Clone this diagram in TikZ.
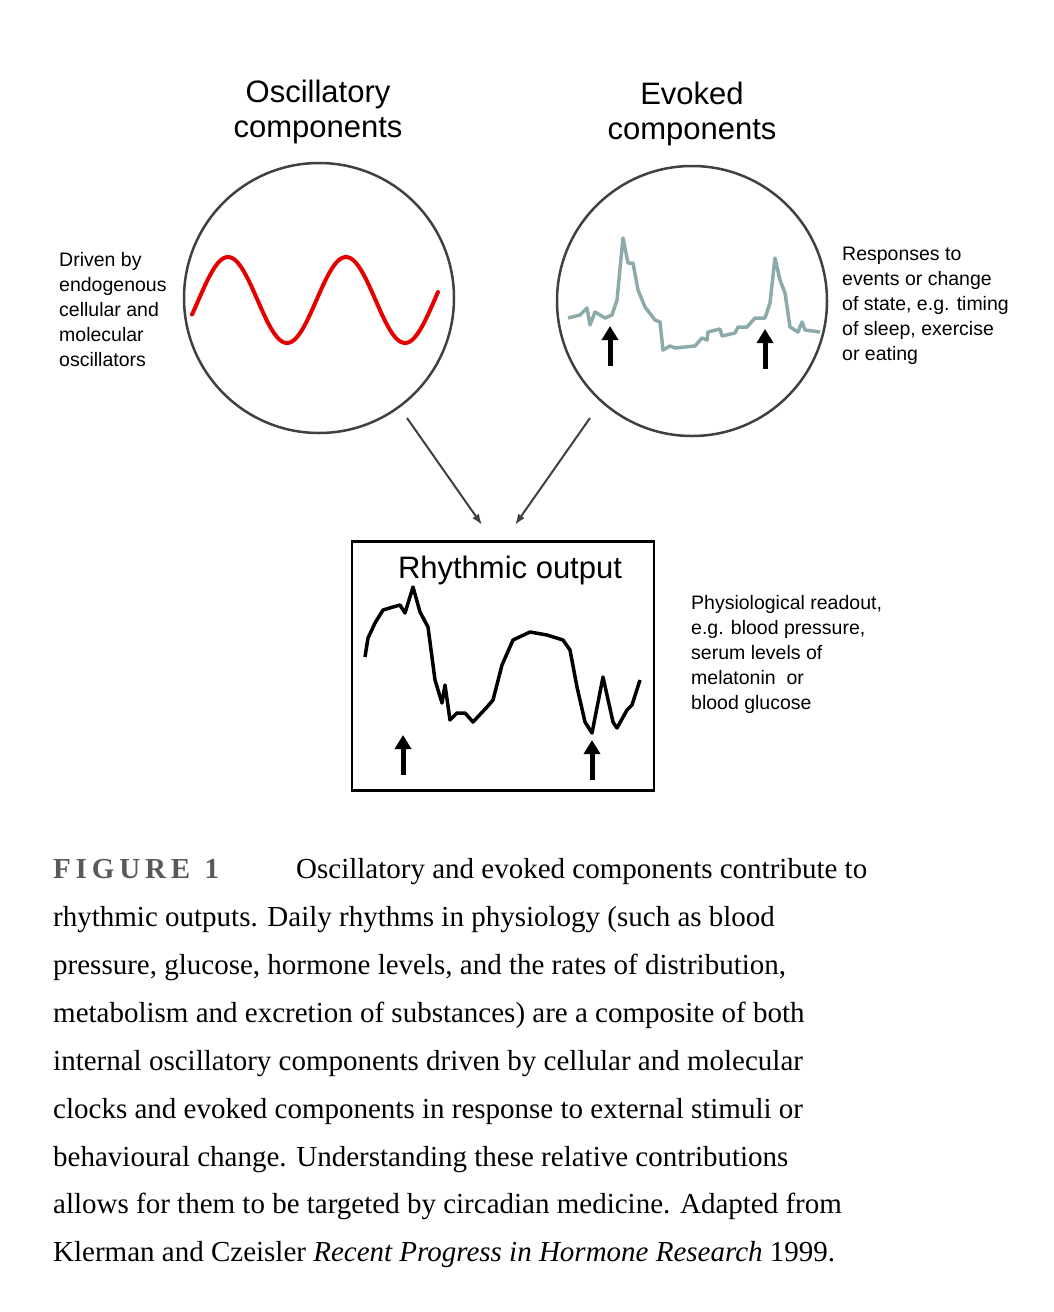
\documentclass[tikz,border=0pt]{standalone}
\usepackage{fontspec}
\setmainfont{Liberation Serif}
\newfontfamily\arial{Liberation Sans}
\usetikzlibrary{arrows.meta}
\begin{document}
\begin{tikzpicture}[x=1pt,y=-1pt,
  head/.style={font=\arial\fontsize{31}{35}\selectfont,align=center},
  side/.style={font=\arial\fontsize{19.5}{25}\selectfont,align=left,anchor=north west,inner sep=0},
  captext/.style={font=\fontsize{29}{34}\selectfont,anchor=base west,inner sep=0},
  circ/.style={draw=black!75,line width=2.5pt},
  conn/.style={draw=black!75,line width=2pt,-{Latex[length=11pt,width=8pt]}},
  evt/.style={line width=5pt,-{Triangle[length=14pt,width=16pt]}}]
\useasboundingbox (0,0) rectangle (1053,1312);
\node[head] (h1) at (318,112) {Oscillatory\\components};
\node[head] (h2) at (692,114) {Evoked\\components};
\node[circ,circle,minimum size=270pt,inner sep=0] (c1) at (319,298) {};
\node[circ,circle,minimum size=270pt,inner sep=0] (c2) at (692,301) {};
\draw[red!90!black,line width=4pt,line cap=round,domain=192:438,samples=120]
  plot (\x,{300-43*sin((\x-198.5)*3.0508)});
\draw[color={rgb,255:red,140;green,170;blue,170},line width=3.5pt,line join=round]
 (568,318)--(580,315)--(587,308)--(590,325)--(595,312)--(605,318)--(612,315)--(617,300)--(623,238)--(628,263)--(633,263)--(638,290)--(645,307)--(655,320)--(660,322)--(663,350)--(670,346)--(675,348)--(695,346)--(702,338)--(707,340)--(708,332)--(720,329)--(722,336)--(735,333)--(738,327)--(747,327)--(755,318)--(765,318)--(770,303)--(775,258)--(780,280)--(785,293)--(790,327)--(798,332)--(802,322)--(805,330)--(820,332);
\coordinate (e1a) at (610,366); \coordinate (e1b) at (610,326);
\coordinate (e2a) at (765,369); \coordinate (e2b) at (765,329);
\draw[evt] (e1a)--(e1b); \draw[evt] (e2a)--(e2b);
\node[side] (t1) at (59,252) {Driven by\\endogenous\\cellular and\\molecular\\oscillators};
\node[side] (t2) at (842,247) {Responses to\\events or change\\of state, e.g. timing\\of sleep, exercise\\or eating};
\node[draw,line width=2.5pt,minimum width=302pt,minimum height=249pt,inner sep=0] (box) at (503,666) {};
\node[font=\arial\fontsize{31}{35}\selectfont] (rt) at (510,570) {Rhythmic output};
\draw[line width=3.5pt,line join=round]
 (365,657)--(368,638)--(375,623)--(383,610)--(393,607)--(400,605)--(405,613)--(413,587)--(420,612)--(428,627)--(435,680)--(442,703)--(445,685)--(450,720)--(457,713)--(465,713)--(473,722)--(487,707)--(493,700)--(502,665)--(513,640)--(530,632)--(547,635)--(563,640)--(570,650)--(577,687)--(585,722)--(592,733)--(603,677)--(613,722)--(617,728)--(627,710)--(632,705)--(640,680);
\coordinate (r1a) at (403,775); \coordinate (r1b) at (403,735);
\coordinate (r2a) at (592,780); \coordinate (r2b) at (592,740);
\draw[evt] (r1a)--(r1b); \draw[evt] (r2a)--(r2b);
\node[side] (t3) at (691,595) {Physiological readout,\\e.g. blood pressure,\\serum levels of\\melatonin~ or\\blood glucose};
\coordinate (a1s) at (407,418); \coordinate (a1e) at (482,525);
\coordinate (a2s) at (590,418); \coordinate (a2e) at (515,525);
\draw[conn] (a1s)--(a1e);
\draw[conn] (a2s)--(a2e);
\node[captext,text=black!65] (f1) at (53,878) {\textbf{F\,I\,G\,U\,R\,E\,\,\,1}};
\node[captext] (l1) at (296,878) {Oscillatory and evoked components contribute to};
\node[captext] (l2) at (53,926) {rhythmic outputs. Daily rhythms in physiology (such as blood};
\node[captext] (l3) at (53,974) {pressure, glucose, hormone levels, and the rates of distribution,};
\node[captext] (l4) at (53,1022) {metabolism and excretion of substances) are a composite of both};
\node[captext] (l5) at (53,1070) {internal oscillatory components driven by cellular and molecular};
\node[captext] (l6) at (53,1118) {clocks and evoked components in response to external stimuli or};
\node[captext] (l7) at (53,1166) {behavioural change. Understanding these relative contributions};
\node[captext] (l8) at (53,1213) {allows for them to be targeted by circadian medicine. Adapted from};
\node[captext] (l9) at (53,1261) {Klerman and Czeisler \textit{Recent Progress in Hormone Research} 1999.};
\end{tikzpicture}
\end{document}
